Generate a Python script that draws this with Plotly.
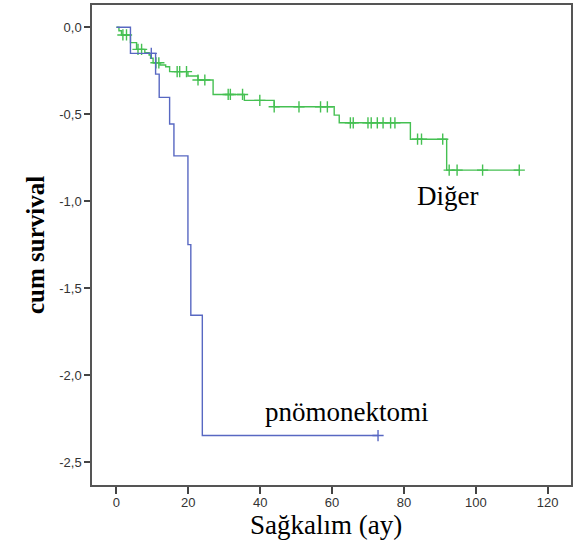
import numpy as np
import plotly.graph_objects as go

# Data
blue_t = [0, 3.9, 10.9, 11.9, 14.8, 16.0, 19.9, 20.7, 23.9, 72.8]
blue_v = [0, -0.150, -0.269, -0.403, -0.556, -0.739, -1.249, -1.655, -2.346, -2.346]
blue_cens = [9.7, 72.8]

green_t = [0, 0.7, 1.4, 3.9, 5.6, 7.9, 9.1, 9.5, 10.2, 12.1, 13.7, 14.8, 19.9, 22.7,
           26.9, 35.6, 43.9, 60.6, 62.0, 81.8, 91.9, 112.1]
green_v = [0, -0.02, -0.044, -0.088, -0.127, -0.146, -0.159, -0.178, -0.204, -0.217,
           -0.227, -0.255, -0.280, -0.303, -0.386, -0.420, -0.457, -0.505, -0.549,
           -0.643, -0.821, -0.821]
green_cens = [1.8, 2.8, 6.0, 7.0, 11.0, 11.8, 16.9, 17.6, 19.5, 22.7, 24.6, 31.1, 31.7,
              35.1, 39.9, 43.9, 50.8, 56.8, 58.7, 65.1, 65.9, 70.0, 70.9, 72.6, 74.2,
              76.3, 77.5, 83.8, 84.9, 90.8, 92.6, 94.8, 101.9, 112.1]

x_ticks = [0, 20, 40, 60, 80, 100, 120]
y_ticks = [0.0, -0.5, -1.0, -1.5, -2.0, -2.5]
y_tick_labels = ["0,0", "-0,5", "-1,0", "-1,5", "-2,0", "-2,5"]

GREEN = "#45c052"
BLUE = "#5868c2"


def step_at(ts, vs, c):
    ts = np.asarray(ts)
    idx = np.searchsorted(ts, c, side="right") - 1
    return [vs[i] for i in idx]


fig = go.Figure()
fig.add_trace(go.Scatter(x=green_t, y=green_v, mode="lines", line_shape="hv",
                         line=dict(color=GREEN, width=1.4), showlegend=False))
fig.add_trace(go.Scatter(x=green_cens, y=step_at(green_t, green_v, green_cens), mode="markers",
                         marker=dict(symbol="cross-thin", size=8,
                                     line=dict(color=GREEN, width=1.4)),
                         showlegend=False))
fig.add_trace(go.Scatter(x=blue_t, y=blue_v, mode="lines", line_shape="hv",
                         line=dict(color=BLUE, width=1.4), showlegend=False))
fig.add_trace(go.Scatter(x=blue_cens, y=step_at(blue_t, blue_v, blue_cens), mode="markers",
                         marker=dict(symbol="cross-thin", size=8,
                                     line=dict(color=BLUE, width=1.4)),
                         showlegend=False))

serif = "Liberation Serif, Times New Roman, serif"
fig.add_annotation(x=92.2, y=-0.97, xref="x", yref="y", text="Diğer", showarrow=False,
                   font=dict(family=serif, size=27, color="black"))
fig.add_annotation(x=64.3, y=-2.21, xref="x", yref="y", text="pnömonektomi", showarrow=False,
                   font=dict(family=serif, size=27, color="black"))
# axis titles
fig.add_annotation(x=0.4875, y=0, xref="paper", yref="paper", yanchor="middle",
                   yshift=-40, text="Sağkalım (ay)", showarrow=False,
                   font=dict(family=serif, size=27, color="black"))
fig.add_annotation(x=0, y=0.5, xref="paper", yref="paper", xanchor="center",
                   xshift=-57, textangle=-90, text="<b>cum survival</b>", showarrow=False,
                   font=dict(family=serif, size=25, color="black"))

fig.update_layout(
    width=575, height=545,
    margin=dict(l=92, r=4, t=5, b=60),
    paper_bgcolor="white", plot_bgcolor="white",
    font=dict(family="Liberation Sans, Arial, sans-serif", size=13, color="#333"),
    xaxis=dict(range=[-6.8, 126.5], tickvals=x_ticks, ticks="outside", ticklen=7,
               tickwidth=1.5, tickcolor="#444", showgrid=False, zeroline=False,
               showline=True, linecolor="#555", linewidth=1.5, mirror=True,
               automargin=False, ticklabelstandoff=-2,
               tickfont=dict(size=13, color="#333")),
    yaxis=dict(range=[-2.630, 0.128], tickvals=y_ticks, ticktext=y_tick_labels,
               ticks="outside", ticklen=6, tickwidth=1.5, tickcolor="#444",
               showgrid=False, zeroline=False, automargin=False,
               showline=True, linecolor="#555", linewidth=1.5, mirror=True,
               tickfont=dict(size=13, color="#333")),
)

fig.write_html("out.html", config={"displayModeBar": False},
               post_script="document.body.style.margin='0';document.body.style.overflow='hidden';")
